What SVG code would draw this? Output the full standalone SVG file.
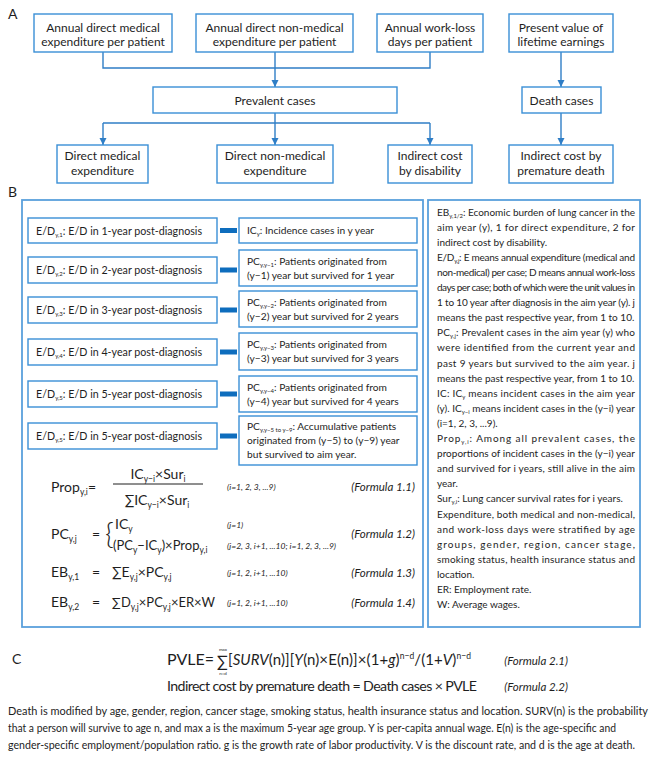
<svg xmlns="http://www.w3.org/2000/svg" width="661" height="760" viewBox="0 0 661 760">
<style>
text{font-family:Lato,"Liberation Sans","DejaVu Sans",sans-serif;fill:#1e1e1e}
.bx{fill:#fff;stroke:#3a8fd6;stroke-width:1.4}
.panel{fill:none;stroke:#5aa0dc;stroke-width:1.8}
.con{fill:none;stroke:#2f7ec6;stroke-width:1.4}
.a{font-size:12px;text-anchor:middle}
.lbl{font-size:14px}
.b{font-size:10.2px}
.e{font-size:10.7px}
.r{font-size:10px}
.s{font-size:6px}
.f{font-size:14px}
.fx{font-size:13px}
.fsub{font-size:8.5px}
.fi{font-size:8.5px;font-style:italic}
.fn{font-size:11.5px;font-style:italic;text-anchor:end}
.dash{fill:#0e6dbd}
.p{font-size:10.5px}
</style>
<defs>
<marker id="arr" markerWidth="8" markerHeight="8" refX="7" refY="4" orient="auto" markerUnits="userSpaceOnUse">
<path d="M0,0.5 L7,4 L0,7.5 z" fill="#2f7ec6"/>
</marker>
</defs>

<!-- Section A -->
<text x="8" y="19" class="lbl">A</text>
<g id="connectors">
<path class="con" d="M103,52 V68 H430 V52"/>
<path class="con" d="M275,52 V87" marker-end="url(#arr)"/>
<path class="con" d="M561,52 V87" marker-end="url(#arr)"/>
<path class="con" d="M275,113 V123"/>
<path class="con" d="M103,123 H430"/>
<path class="con" d="M103,123 V145" marker-end="url(#arr)"/>
<path class="con" d="M275,123 V145" marker-end="url(#arr)"/>
<path class="con" d="M430,123 V145" marker-end="url(#arr)"/>
<path class="con" d="M561,113 V145" marker-end="url(#arr)"/>
</g>
<g id="n-med-exp"><rect class="bx" x="34" y="14" width="138" height="38"/><text class="a" x="103" y="32">Annual direct medical</text><text class="a" x="103" y="46">expenditure per patient</text></g>
<g id="n-nonmed-exp"><rect class="bx" x="196" y="14" width="157" height="38"/><text class="a" x="274.5" y="32">Annual direct non-medical</text><text class="a" x="274.5" y="46">expenditure per patient</text></g>
<g id="n-workloss"><rect class="bx" x="377" y="14" width="106" height="38"/><text class="a" x="430" y="32">Annual work-loss</text><text class="a" x="430" y="46">days per patient</text></g>
<g id="n-pvle"><rect class="bx" x="509" y="14" width="104" height="38"/><text class="a" x="561" y="32">Present value of</text><text class="a" x="561" y="46">lifetime earnings</text></g>
<g id="n-prevalent"><rect class="bx" x="153" y="87" width="244" height="26"/><text class="a" x="275" y="104.5">Prevalent cases</text></g>
<g id="n-death"><rect class="bx" x="522" y="87" width="79" height="26"/><text class="a" x="561.5" y="104.5">Death cases</text></g>
<g id="n-dme"><rect class="bx" x="57" y="145" width="91" height="38"/><text class="a" x="102.5" y="160">Direct medical</text><text class="a" x="102.5" y="175">expenditure</text></g>
<g id="n-dnme"><rect class="bx" x="217" y="145" width="116" height="38"/><text class="a" x="275" y="160">Direct non-medical</text><text class="a" x="275" y="175">expenditure</text></g>
<g id="n-icd"><rect class="bx" x="388" y="145" width="84" height="38"/><text class="a" x="430" y="160">Indirect cost</text><text class="a" x="430" y="175">by disability</text></g>
<g id="n-icpd"><rect class="bx" x="509" y="145" width="104" height="38"/><text class="a" x="561" y="160">Indirect cost by</text><text class="a" x="561" y="175">premature death</text></g>

<!-- Section B -->
<text x="8" y="197" class="lbl">B</text>
<rect class="panel" x="22" y="200" width="401" height="427"/>
<rect class="panel" x="428" y="200" width="212" height="427"/>

<g id="ed1"><rect class="bx" x="28" y="218" width="189" height="25"/><text class="e" x="36" y="234.5">E/D<tspan class="s" dy="2">y,1</tspan><tspan dy="-2">: E/D in 1-year post-diagnosis</tspan></text></g>
<g id="ed2"><rect class="bx" x="28" y="257" width="189" height="26"/><text class="e" x="36" y="274">E/D<tspan class="s" dy="2">y,2</tspan><tspan dy="-2">: E/D in 2-year post-diagnosis</tspan></text></g>
<g id="ed3"><rect class="bx" x="28" y="297" width="189" height="26"/><text class="e" x="36" y="314">E/D<tspan class="s" dy="2">y,3</tspan><tspan dy="-2">: E/D in 3-year post-diagnosis</tspan></text></g>
<g id="ed4"><rect class="bx" x="28" y="339" width="189" height="26"/><text class="e" x="36" y="356">E/D<tspan class="s" dy="2">y,4</tspan><tspan dy="-2">: E/D in 4-year post-diagnosis</tspan></text></g>
<g id="ed5"><rect class="bx" x="28" y="381" width="189" height="26"/><text class="e" x="36" y="398">E/D<tspan class="s" dy="2">y,5</tspan><tspan dy="-2">: E/D in 5-year post-diagnosis</tspan></text></g>
<g id="ed6"><rect class="bx" x="28" y="423" width="189" height="26"/><text class="e" x="36" y="440">E/D<tspan class="s" dy="2">y,5</tspan><tspan dy="-2">: E/D in 5-year post-diagnosis</tspan></text></g>

<g id="links">
<rect class="dash" x="220" y="228" width="17" height="5"/>
<rect class="dash" x="220" y="267.5" width="17" height="5"/>
<rect class="dash" x="220" y="307.5" width="17" height="5"/>
<rect class="dash" x="220" y="349.5" width="17" height="5"/>
<rect class="dash" x="220" y="391.5" width="17" height="5"/>
<rect class="dash" x="220" y="433.5" width="17" height="5"/>
</g>

<g id="ic"><rect class="bx" x="239" y="218" width="178" height="25"/><text class="b" x="247" y="234">IC<tspan class="s" dy="2">y</tspan><tspan dy="-2">: Incidence cases in y year</tspan></text></g>
<g id="pc1"><rect class="bx" x="239" y="250" width="178" height="36"/><text class="b" x="247" y="265">PC<tspan class="s" dy="2">y,y−1</tspan><tspan dy="-2">: Patients originated from</tspan></text><text class="b" x="247" y="279">(y−1) year but survived for 1 year</text></g>
<g id="pc2"><rect class="bx" x="239" y="291" width="178" height="36"/><text class="b" x="247" y="306">PC<tspan class="s" dy="2">y,y−2</tspan><tspan dy="-2">: Patients originated from</tspan></text><text class="b" x="247" y="320">(y−2) year but survived for 2 years</text></g>
<g id="pc3"><rect class="bx" x="239" y="333" width="178" height="37"/><text class="b" x="247" y="348">PC<tspan class="s" dy="2">y,y−3</tspan><tspan dy="-2">: Patients originated from</tspan></text><text class="b" x="247" y="362">(y−3) year but survived for 3 years</text></g>
<g id="pc4"><rect class="bx" x="239" y="376" width="178" height="36"/><text class="b" x="247" y="391">PC<tspan class="s" dy="2">y,y−4</tspan><tspan dy="-2">: Patients originated from</tspan></text><text class="b" x="247" y="405">(y−4) year but survived for 4 years</text></g>
<g id="pc5"><rect class="bx" x="239" y="416" width="178" height="49"/><text class="b" x="247" y="430">PC<tspan class="s" dy="2">y,y−5 to y−9</tspan><tspan dy="-2">: Accumulative patients</tspan></text><text class="b" x="247" y="444">originated from (y−5) to (y−9) year</text><text class="b" x="247" y="458">but survived to aim year.</text></g>

<g id="formulas-b">
<text class="f" x="51" y="492">Prop<tspan class="fsub" dy="3">y,i</tspan></text>
<text class="f" x="88" y="492">=</text>
<text class="f" x="158" y="479" text-anchor="middle">IC<tspan class="fsub" dy="3">y−i</tspan><tspan dy="-3">×Sur</tspan><tspan class="fsub" dy="3">i</tspan></text>
<line x1="113" y1="484" x2="203" y2="484" stroke="#1e1e1e" stroke-width="1"/>
<text class="f" x="157" y="505" text-anchor="middle">∑IC<tspan class="fsub" dy="3">y−i</tspan><tspan dy="-3">×Sur</tspan><tspan class="fsub" dy="3">i</tspan></text>
<text class="fi" x="227" y="490">(i=1, 2, 3, ...9)</text>
<text class="fn" x="415" y="491">(Formula 1.1)</text>

<text class="f" x="51" y="539">PC<tspan class="fsub" dy="3">y,j</tspan></text>
<text class="f" x="92" y="539">=</text>
<text x="105" y="544" style="font-size:30px;font-weight:300">{</text>
<text class="f" x="115" y="529">IC<tspan class="fsub" dy="3">y</tspan></text>
<text class="fx" x="113" y="550">(PC<tspan class="fsub" dy="3">y</tspan><tspan dy="-3">−IC</tspan><tspan class="fsub" dy="3">y</tspan><tspan dy="-3">)×Prop</tspan><tspan class="fsub" dy="3">y,i</tspan></text>
<text class="fi" x="227" y="528">(j=1)</text>
<text class="fi" x="227" y="549">(j=2, 3, i+1, ...10; i=1, 2, 3, ...9)</text>
<text class="fn" x="415" y="538">(Formula 1.2)</text>

<text class="f" x="51" y="577">EB<tspan class="fsub" dy="3">y,1</tspan></text>
<text class="f" x="92" y="577">=</text>
<text class="f" x="112" y="577">∑E<tspan class="fsub" dy="3">y,j</tspan><tspan dy="-3">×PC</tspan><tspan class="fsub" dy="3">y,j</tspan></text>
<text class="fi" x="227" y="576">(j=1, 2, i+1, ...10)</text>
<text class="fn" x="415" y="577">(Formula 1.3)</text>

<text class="f" x="51" y="607">EB<tspan class="fsub" dy="3">y,2</tspan></text>
<text class="f" x="92" y="607">=</text>
<text class="fx" x="112" y="607">∑D<tspan class="fsub" dy="3">y,j</tspan><tspan dy="-3">×PC</tspan><tspan class="fsub" dy="3">y,j</tspan><tspan dy="-3">×ER×W</tspan></text>
<text class="fi" x="227" y="606">(j=1, 2, i+1, ...10)</text>
<text class="fn" x="415" y="607">(Formula 1.4)</text>
</g>

<g id="legend">
<text class="r" x="437" y="215.5" textLength="198" lengthAdjust="spacing">EB<tspan class="s" dy="2">y,1/2</tspan><tspan dy="-2">: Economic burden of lung cancer in the</tspan></text>
<text class="r" x="437" y="230.6" textLength="198" lengthAdjust="spacing">aim year (y), 1 for direct expenditure, 2 for</text>
<text class="r" x="437" y="245.7">indirect cost by disability.</text>
<text class="r" x="437" y="260.8" textLength="198" lengthAdjust="spacing">E/D<tspan class="s" dy="2">y,j</tspan><tspan dy="-2">: E means annual expenditure (medical and</tspan></text>
<text class="r" x="437" y="275.9" textLength="198" lengthAdjust="spacing">non-medical) per case; D means annual work-loss</text>
<text class="r" x="437" y="291" textLength="198" lengthAdjust="spacing">days per case; both of which were the unit values in</text>
<text class="r" x="437" y="306.1" textLength="198" lengthAdjust="spacing">1 to 10 year after diagnosis in the aim year (y). j</text>
<text class="r" x="437" y="321.2">means the past respective year, from 1 to 10.</text>
<text class="r" x="437" y="336.3" textLength="198" lengthAdjust="spacing">PC<tspan class="s" dy="2">y,j</tspan><tspan dy="-2">: Prevalent cases in the aim year (y) who</tspan></text>
<text class="r" x="437" y="351.4" textLength="198" lengthAdjust="spacing">were identified from the current year and</text>
<text class="r" x="437" y="366.5" textLength="198" lengthAdjust="spacing">past 9 years but survived to the aim year. j</text>
<text class="r" x="437" y="381.6">means the past respective year, from 1 to 10.</text>
<text class="r" x="437" y="396.7" textLength="198" lengthAdjust="spacing">IC: IC<tspan class="s" dy="2">y</tspan><tspan dy="-2"> means incident cases in the aim year</tspan></text>
<text class="r" x="437" y="411.8" textLength="198" lengthAdjust="spacing">(y). IC<tspan class="s" dy="2">y−i</tspan><tspan dy="-2"> means incident cases in the (y−i) year</tspan></text>
<text class="r" x="437" y="426.9">(i=1, 2, 3, ...9).</text>
<text class="r" x="437" y="442" textLength="198" lengthAdjust="spacing">Prop<tspan class="s" dy="2">y,i</tspan><tspan dy="-2">: Among all prevalent cases, the</tspan></text>
<text class="r" x="437" y="457.1" textLength="198" lengthAdjust="spacing">proportions of incident cases in the (y−i) year</text>
<text class="r" x="437" y="472.2" textLength="198" lengthAdjust="spacing">and survived for i years, still alive in the aim</text>
<text class="r" x="437" y="487.3">year.</text>
<text class="r" x="437" y="502.4">Sur<tspan class="s" dy="2">y,i</tspan><tspan dy="-2">: Lung cancer survival rates for i years.</tspan></text>
<text class="r" x="437" y="517.5" textLength="198" lengthAdjust="spacing">Expenditure, both medical and non-medical,</text>
<text class="r" x="437" y="532.6" textLength="198" lengthAdjust="spacing">and work-loss days were stratified by age</text>
<text class="r" x="437" y="547.7" textLength="198" lengthAdjust="spacing">groups, gender, region, cancer stage,</text>
<text class="r" x="437" y="562.8" textLength="198" lengthAdjust="spacing">smoking status, health insurance status and</text>
<text class="r" x="437" y="577.9">location.</text>
<text class="r" x="437" y="593">ER: Employment rate.</text>
<text class="r" x="437" y="608.1">W: Average wages.</text>
</g>

<!-- Section C -->
<text x="12" y="664" class="lbl">C</text>
<g id="formulas-c">
<text x="167" y="665" style="font-size:16px">PVLE=</text>
<text x="217" y="667" style="font-size:16px">∑</text>
<text x="223" y="651" style="font-size:4.5px" text-anchor="middle">max</text>
<text x="223" y="675" style="font-size:4.5px" text-anchor="middle">n=d</text>
<text x="228" y="665" style="font-size:15px" textLength="243" lengthAdjust="spacing">[<tspan font-style="italic">SURV</tspan>(n)][<tspan font-style="italic">Y</tspan>(n)×E(n)]×(1+<tspan font-style="italic">g</tspan>)<tspan class="fsub" dy="-6">n−d</tspan><tspan dy="6">/(1+</tspan><tspan font-style="italic">V</tspan>)<tspan class="fsub" dy="-6">n−d</tspan></text>
<text class="fn" x="568" y="665">(Formula 2.1)</text>
<text x="167" y="691" style="font-size:14.2px" textLength="310" lengthAdjust="spacing">Indirect cost by premature death = Death cases × PVLE</text>
<text class="fn" x="568" y="691">(Formula 2.2)</text>
</g>
<g id="note">
<text class="p" x="8" y="715" textLength="640" lengthAdjust="spacingAndGlyphs">Death is modified by age, gender, region, cancer stage, smoking status, health insurance status and location. SURV(n) is the probability</text>
<text class="p" x="8" y="732" textLength="608" lengthAdjust="spacingAndGlyphs">that a person will survive to age n, and max a is the maximum 5-year age group. Y is per-capita annual wage. E(n) is the age-specific and</text>
<text class="p" x="8" y="749" textLength="627" lengthAdjust="spacingAndGlyphs">gender-specific employment/population ratio. g is the growth rate of labor productivity. V is the discount rate, and d is the age at death.</text>
</g>
</svg>
